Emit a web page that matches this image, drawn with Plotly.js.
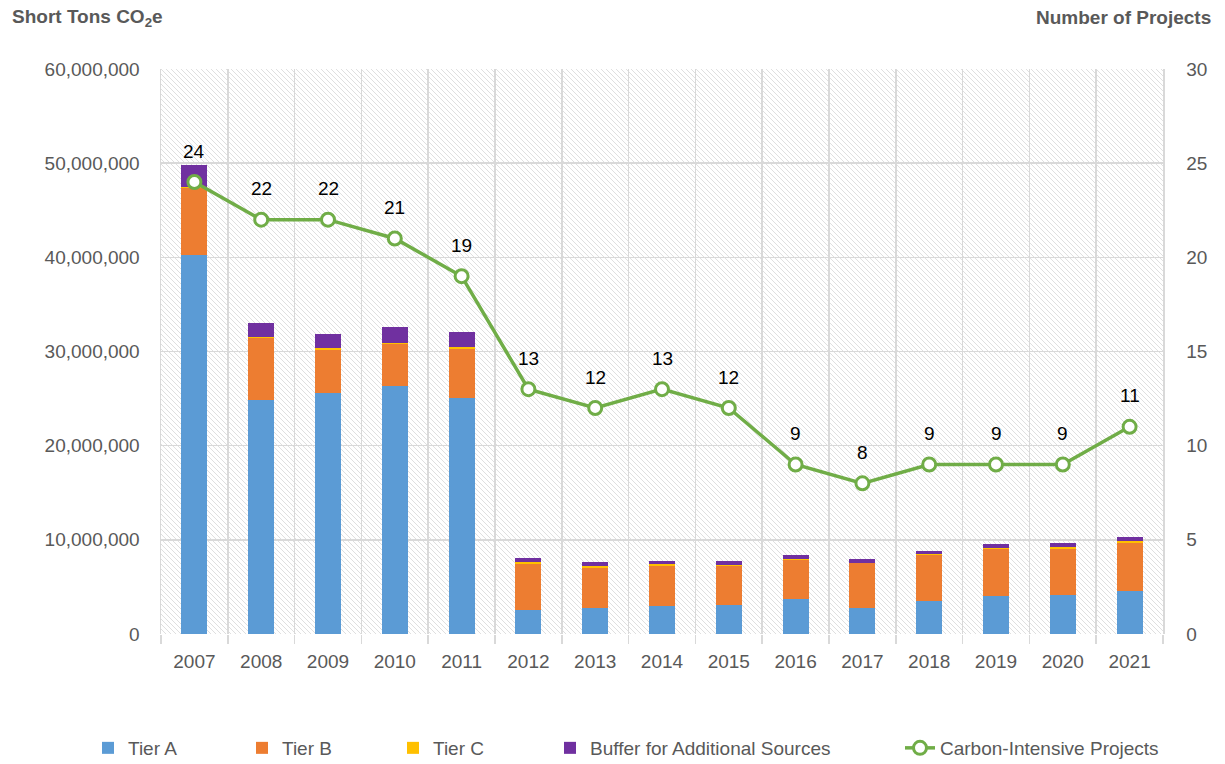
<!DOCTYPE html>
<html>
<head>
<meta charset="utf-8">
<script src="https://cdn.plot.ly/plotly-3.0.1.min.js"></script>
<style>html,body{margin:0;padding:0;background:#fff;}#chart{width:1225px;height:764px;}</style>
</head>
<body>
<div id="chart"></div>
<script>
var years = ['2007','2008','2009','2010','2011','2012','2013','2014','2015','2016','2017','2018','2019','2020','2021'];
var tierA = [40200000,24900000,25600000,26300000,25100000,2550000,2800000,2950000,3080000,3760000,2800000,3500000,4040000,4180000,4600000];
var tierB = [7200000,6500000,4600000,4500000,5200000,4900000,4250000,4250000,4100000,4050000,4700000,4900000,4950000,4900000,5080000];
var tierC = [100000,100000,150000,150000,200000,150000,150000,250000,150000,150000,50000,50000,150000,150000,180000];
var buffer = [2300000,1500000,1500000,1600000,1600000,450000,400000,300000,400000,400000,400000,400000,420000,450000,430000];
var projects = [24,22,22,21,19,13,12,13,12,9,8,9,9,9,11];

var FONT = 'Liberation Sans, Arial, sans-serif';
var GRAY = '#595959';
var GRID = '#d9d9d9';

var hatch = "<svg xmlns='http://www.w3.org/2000/svg' width='1002' height='565' preserveAspectRatio='none'>" +
  "<defs><pattern id='p' patternUnits='userSpaceOnUse' width='5' height='5'>" +
  "<path d='M-1,-1 L6,6 M-1,4 L1,6 M4,-1 L6,1' stroke='#dfdfdf' stroke-width='1'/></pattern></defs>" +
  "<rect width='1002' height='565' fill='#ffffff'/><rect width='1002' height='565' fill='url(#p)'/></svg>";
var hatchURI = 'data:image/svg+xml;charset=utf-8,' + encodeURIComponent(hatch);

function barTrace(name, vals, color, leg) {
  return {type:'bar', name:name, x:years, y:vals, legend:leg, marker:{color:color, line:{width:0}}, hoverinfo:'y+name'};
}

var traces = [
  barTrace('Tier A', tierA, '#5B9BD5', 'legend'),
  barTrace('Tier B', tierB, '#ED7D31', 'legend2'),
  barTrace('Tier C', tierC, '#FFC000', 'legend3'),
  barTrace('Buffer for Additional Sources', buffer, '#7030A0', 'legend4'),
  {type:'scatter', mode:'lines+markers', name:'Carbon-Intensive Projects', x:years, y:projects, yaxis:'y2', legend:'legend5',
   line:{color:'#70AD47', width:3.5}, marker:{size:13, color:'#ffffff', line:{color:'#70AD47', width:3}}}
];

var annotations = years.map(function(yr, i){
  return {x:i, y:projects[i], xref:'x', yref:'y2', text:String(projects[i]), showarrow:false,
          yshift:31, font:{family:FONT, size:19, color:'#000000'}};
});
annotations.push({xref:'paper', yref:'paper', x:-0.1507, y:1.0903, xanchor:'left', yanchor:'middle',
  text:'<b>Short Tons CO<sub>2</sub>e</b>', showarrow:false, font:{family:FONT, size:19, color:GRAY}});
annotations.push({xref:'paper', yref:'paper', x:1.05, y:1.0903, xanchor:'right', yanchor:'middle',
  text:'<b>Number of Projects</b>', showarrow:false, font:{family:FONT, size:19, color:GRAY}});

function leg(xpx) {
  return {orientation:'h', xref:'container', yref:'container', x:xpx/1225, xanchor:'left',
          y:(764-748)/764, yanchor:'middle', bgcolor:'rgba(0,0,0,0)',
          font:{family:FONT, size:19, color:GRAY}};
}

var layout = {
  width:1225, height:764,
  margin:{l:161, r:62, t:69, b:130},
  paper_bgcolor:'#ffffff', plot_bgcolor:'rgba(0,0,0,0)',
  barmode:'stack', bargap:0.61,
  showlegend:true,
  legend:leg(88), legend2:leg(242), legend3:leg(393), legend4:leg(550), legend5:leg(900),
  xaxis:{type:'category', range:[-0.5, 14.5], tickson:'boundaries', ticks:'outside', ticklen:9, tickcolor:GRID, tickwidth:1.5,
         showgrid:true, gridcolor:GRID, gridwidth:1.5, showline:false, zeroline:false, tickangle:0,
         tickfont:{family:FONT, size:19, color:GRAY}, ticklabelstandoff:14},
  yaxis:{range:[0,60000000], dtick:10000000, tickformat:',d', showgrid:true, gridcolor:GRID, gridwidth:1.5,
         zeroline:false, showline:true, linecolor:GRID, linewidth:1.5, ticks:'',
         tickfont:{family:FONT, size:19, color:GRAY}, ticklabelstandoff:16},
  yaxis2:{range:[0,30], dtick:5, overlaying:'y', side:'right', showgrid:false, zeroline:false,
          showline:true, linecolor:GRID, linewidth:1.5, ticks:'',
          tickfont:{family:FONT, size:19, color:GRAY}, ticklabelstandoff:18},
  images:[{source:hatchURI, xref:'paper', yref:'paper', x:0, y:1, sizex:1, sizey:1,
           xanchor:'left', yanchor:'top', sizing:'stretch', layer:'below'}],
  annotations:annotations
};

Plotly.newPlot('chart', traces, layout, {displayModeBar:false, staticPlot:true});
</script>
</body>
</html>
